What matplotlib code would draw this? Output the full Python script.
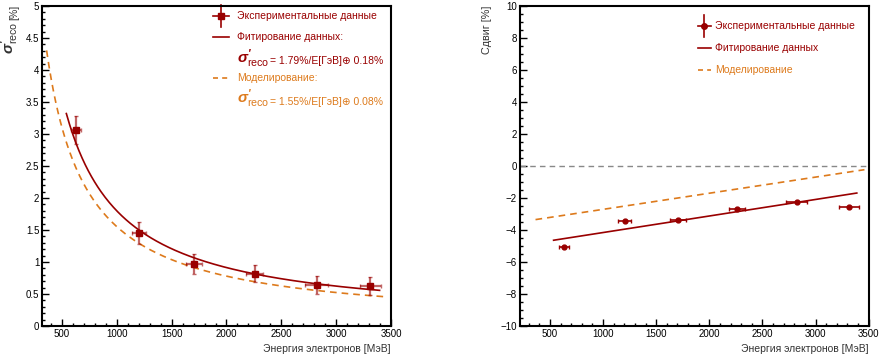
import numpy as np
import matplotlib
matplotlib.use('Agg')
import matplotlib.pyplot as plt
from matplotlib.ticker import MultipleLocator

plt.rcParams['font.family'] = ['Liberation Sans', 'DejaVu Sans']
plt.rcParams['mathtext.fontset'] = 'custom'
plt.rcParams['mathtext.rm'] = 'Liberation Sans'
plt.rcParams['mathtext.it'] = 'Liberation Sans:italic'
plt.rcParams['mathtext.bf'] = 'Liberation Sans:bold:italic'

RED = '#990000'
ORANGE = '#dd7a1c'

# data
energy = [628, 1202, 1705, 2258, 2821, 3313]          # MeV
energy_err = [47, 62, 72, 76, 102, 96]
sigma = [3.06, 1.45, 0.97, 0.82, 0.64, 0.625]         # %
sigma_err = [0.22, 0.17, 0.15, 0.14, 0.135, 0.135]
shift = [-5.04, -3.46, -3.39, -2.71, -2.27, -2.54]    # %
shift_err = [0.06, 0.06, 0.06, 0.06, 0.06, 0.06]

# resolution fits: sigma = a/E (+) b, E in GeV
fit_a, fit_b, fit_range = 1.79, 0.18, (540, 3396)
sim_a, sim_b, sim_range = 1.55, 0.08, (360, 3457)

# linear shift fits
shift_fit_x = [534, 3388]
shift_fit_y = [-4.64, -1.69]
shift_sim_x = [364, 3460]
shift_sim_y = [-3.35, -0.23]

fig = plt.figure(figsize=(8.86, 3.57), dpi=100)
axL = fig.add_axes([42/886, 1-326/357, 349/886, 320/357])
axR = fig.add_axes([519.7/886, 1-326/357, 349/886, 320/357])

FS = 7.5
TFS = 7.0
SIG = r'$\mathbf{\sigma}^{\mathbf{\prime}}_{\mathrm{reco}}$'


def style(ax):
    for s in ax.spines.values():
        s.set_linewidth(1.5)
    ax.tick_params(which='both', direction='in', top=False, right=False,
                   labelsize=TFS, pad=2)
    ax.tick_params(which='major', length=5, width=1)
    ax.tick_params(which='minor', length=2.5, width=1)
    ax.xaxis.set_major_locator(MultipleLocator(500))
    ax.xaxis.set_minor_locator(MultipleLocator(100))
    ax.set_xlabel('Энергия электронов [МэВ]', fontsize=FS, color='#333333',
                  loc='right', labelpad=4)


def res(E, a, b):
    return np.sqrt((a / (E / 1000.0))**2 + b**2)


def leg_line(ax, x0, x1, y, color, ls='-', marker=None):
    ax.plot([x0, x1], [y, y], transform=ax.transAxes, color=color, lw=1.2, ls=ls,
            clip_on=False)
    if marker:
        xm = (x0 + x1) / 2
        ax.plot([xm], [y], transform=ax.transAxes, marker=marker, color=color, ms=4,
                clip_on=False)
        ax.plot([xm, xm], [y - 0.035, y + 0.035], transform=ax.transAxes,
                color=color, lw=1.2, clip_on=False)


def formula(ax, x, y, a, b, color):
    t1 = ax.text(x, y, SIG, transform=ax.transAxes, color=color,
                 fontsize=FS * 1.45, va='center')
    ax.annotate(f'= {a:.2f}%/E[ГэВ]⊕ {b:.2f}%', xy=(1, 0), xycoords=t1,
                xytext=(0, 2.8), textcoords='offset points', color=color,
                fontsize=FS, va='bottom', ha='left')


# ---- left: resolution ----
style(axL)
axL.set_xlim(318, 3500)
axL.set_ylim(0, 5)
axL.yaxis.set_minor_locator(MultipleLocator(0.1))
axL.set_yticks([0, 0.5, 1, 1.5, 2, 2.5, 3, 3.5, 4, 4.5, 5])
axL.set_yticklabels(['0', '0.5', '1', '1.5', '2', '2.5', '3', '3.5', '4', '4.5', '5'])

e1 = np.linspace(*fit_range, 300)
e2 = np.linspace(*sim_range, 300)
axL.plot(e2, res(e2, sim_a, sim_b), color=ORANGE, lw=1.2, ls=(0, (4, 3)))
axL.plot(e1, res(e1, fit_a, fit_b), color=RED, lw=1.2)
axL.errorbar(energy, sigma, xerr=energy_err, yerr=sigma_err, fmt='s', color=RED,
             ms=4, ecolor=(0.6, 0, 0, 0.6), elinewidth=1.6, capsize=1.5, capthick=1)

# y title: "[%]" at the top, big sigma below it
yl = fig.text(19 / 886, 1 - 5 / 357, '[%]', rotation=90, fontsize=FS,
              color='#333333', ha='right', va='top')
axL.annotate(SIG, xy=(1, 0), xycoords=yl, xytext=(1.5, -1),
             textcoords='offset points', rotation=90, fontsize=FS * 1.45,
             color='#333333', ha='right', va='top', annotation_clip=False)

# legend, left
leg_line(axL, 0.490, 0.536, 0.969, RED, marker='s')
axL.text(0.558, 0.969, 'Экспериментальные данные', transform=axL.transAxes,
         color=RED, fontsize=FS, va='center')
leg_line(axL, 0.490, 0.536, 0.904, RED)
axL.text(0.558, 0.904, 'Фитирование данных:', transform=axL.transAxes,
         color=RED, fontsize=FS, va='center')
formula(axL, 0.5596, 0.836, fit_a, fit_b, RED)
leg_line(axL, 0.490, 0.536, 0.776, ORANGE, ls=(0, (3, 2.5)))
axL.text(0.558, 0.776, 'Моделирование:', transform=axL.transAxes,
         color=ORANGE, fontsize=FS, va='center')
formula(axL, 0.5596, 0.709, sim_a, sim_b, ORANGE)

# ---- right: shift ----
style(axR)
axR.set_xlim(215, 3500)
axR.set_ylim(-10, 10)
axR.yaxis.set_major_locator(MultipleLocator(2))
axR.yaxis.set_minor_locator(MultipleLocator(0.5))

axR.axhline(0, color='#888888', lw=1, ls=(0, (4, 3)))
axR.plot(shift_sim_x, shift_sim_y, color=ORANGE, lw=1.2, ls=(0, (4, 3)))
axR.plot(shift_fit_x, shift_fit_y, color=RED, lw=1.2)
axR.errorbar(energy, shift, xerr=energy_err, yerr=shift_err, fmt='o', color=RED,
             ms=3.5, elinewidth=1.2, capsize=1.5, capthick=1)

axR.set_ylabel('Сдвиг [%]', fontsize=FS + 0.3, color='#333333')
axR.yaxis.set_label_coords(-0.0946, 1.0)
axR.yaxis.label.set_verticalalignment('center')
axR.yaxis.label.set_horizontalalignment('right')

leg_line(axR, 0.510, 0.549, 0.937, RED, marker='o')
axR.text(0.561, 0.937, 'Экспериментальные данные', transform=axR.transAxes,
         color=RED, fontsize=FS, va='center')
leg_line(axR, 0.510, 0.549, 0.870, RED)
axR.text(0.561, 0.870, 'Фитирование данных', transform=axR.transAxes,
         color=RED, fontsize=FS, va='center')
leg_line(axR, 0.510, 0.549, 0.800, ORANGE, ls=(0, (3, 2.5)))
axR.text(0.561, 0.800, 'Моделирование', transform=axR.transAxes,
         color=ORANGE, fontsize=FS, va='center')

fig.savefig('out.png', dpi=100)
